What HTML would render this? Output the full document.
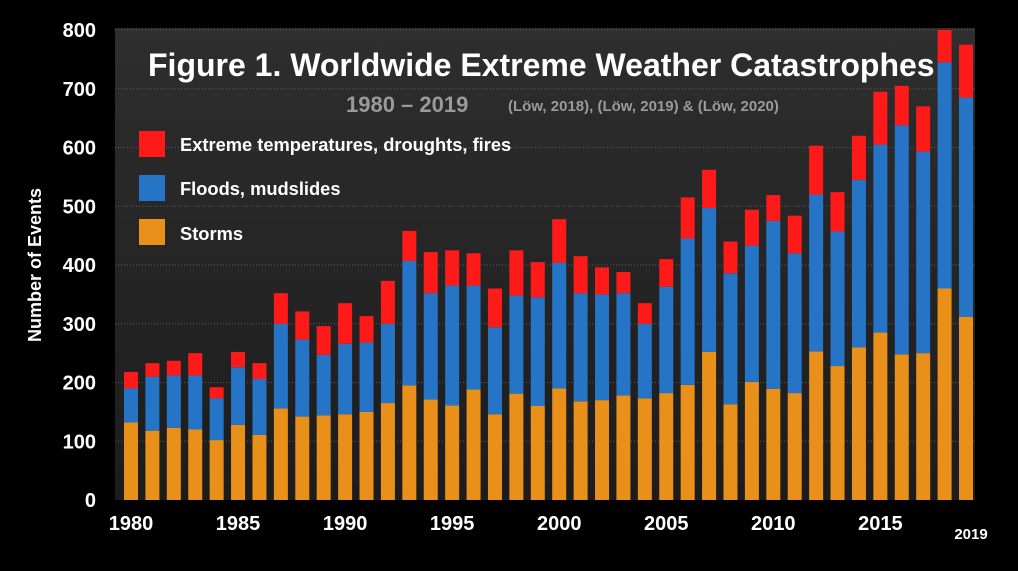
<!DOCTYPE html>
<html><head><meta charset="utf-8"><style>
body{margin:0;background:#000;width:1018px;height:566px;overflow:hidden;font-family:"Liberation Sans",Arial,sans-serif}
</style></head><body>
<svg id="chart" width="1018" height="566" xmlns="http://www.w3.org/2000/svg">
<defs><linearGradient id="bg" x1="0" y1="0" x2="0" y2="1"><stop offset="0" stop-color="#2e2e2e"/><stop offset="1" stop-color="#1c1c1c"/></linearGradient></defs>
<rect x="115" y="28" width="860" height="472" fill="url(#bg)"/>
<g id="grid"></g><g id="bars"></g><g id="axes"></g>
<text x="148" y="76" fill="#fff" font-size="32" font-weight="bold">Figure 1. Worldwide Extreme Weather Catastrophes</text>
<text x="346" y="112" fill="#9a9a9a" font-size="22" font-weight="bold">1980 – 2019</text>
<text x="508" y="111" fill="#9a9a9a" font-size="15" font-weight="bold">(Löw, 2018), (Löw, 2019) &amp; (Löw, 2020)</text>
<g>
<rect x="139" y="131" width="26" height="26" fill="#ff1a1a"/>
<text x="180" y="151" fill="#fff" font-size="18.3" font-weight="bold">Extreme temperatures, droughts, fires</text>
<rect x="139" y="175" width="26" height="26" fill="#2574c6"/>
<text x="180" y="195" fill="#fff" font-size="18.3" font-weight="bold">Floods, mudslides</text>
<rect x="139" y="219" width="26" height="26" fill="#e8901a"/>
<text x="180" y="240" fill="#fff" font-size="18.3" font-weight="bold">Storms</text>
</g>
<text transform="translate(41,265) rotate(-90)" text-anchor="middle" fill="#fff" font-size="18" font-weight="bold">Number of Events</text>
</svg>
<script>
const years=[1980,1981,1982,1983,1984,1985,1986,1987,1988,1989,1990,1991,1992,1993,1994,1995,1996,1997,1998,1999,2000,2001,2002,2003,2004,2005,2006,2007,2008,2009,2010,2011,2012,2013,2014,2015,2016,2017,2018,2019];
const storms=[132,118,123,120,102,128,111,156,142,144,146,150,165,195,171,161,188,146,181,160,190,168,170,178,173,182,196,252,163,201,189,182,253,228,260,285,248,250,360,312];
const floods=[58,92,89,92,71,98,95,144,131,103,120,118,135,212,181,204,177,148,167,185,214,184,180,174,127,181,249,245,223,232,286,238,267,229,285,320,390,343,385,373];
const heat=[28,23,25,38,19,26,27,52,48,49,69,45,73,51,70,60,55,66,77,60,74,63,46,36,35,47,70,65,54,61,44,64,83,67,75,90,67,77,55,90];
const yTicks=[0,100,200,300,400,500,600,700,800];
const xTickYears=[1980,1985,1990,1995,2000,2005,2010,2015];
const ns="http://www.w3.org/2000/svg";
const y0=500,yTop=30,x1980=131,x2019=966,bw=14;
const ys=v=>y0-(v/800)*(y0-yTop);
const xs=yr=>x1980+(yr-1980)*(x2019-x1980)/39;
function mk(t,a,p){const e=document.createElementNS(ns,t);for(const k in a)e.setAttribute(k,a[k]);p.appendChild(e);return e;}
const grid=document.getElementById('grid'),bars=document.getElementById('bars'),axes=document.getElementById('axes');
yTicks.forEach(v=>{
 if(v>0){const l=mk('line',{x1:115,x2:975,y1:ys(v),y2:ys(v),stroke:'#5a5a5a','stroke-dasharray':'1,2'},grid);
 
 }
 const t=mk('text',{x:96,y:ys(v)+7,fill:'#fff','font-size':20,'font-weight':'bold','text-anchor':'end'},axes);
 t.textContent=v;
 
 
});
years.forEach((yr,i)=>{
 const x=xs(yr)-bw/2;const a=storms[i],b=a+floods[i],c=b+heat[i];
 const r1=mk('rect',{x:x,y:ys(a),width:bw,height:ys(0)-ys(a),fill:'#e8901a'},bars);
 
 
 const r2=mk('rect',{x:x,y:ys(b),width:bw,height:ys(a)-ys(b),fill:'#2574c6'},bars);
 
 
 const r3=mk('rect',{x:x,y:ys(c),width:bw,height:ys(b)-ys(c),fill:'#ff1a1a'},bars);
 
 
});
xTickYears.forEach(yr=>{
 const t=mk('text',{x:xs(yr),y:530,fill:'#fff','font-size':20,'font-weight':'bold','text-anchor':'middle'},axes);
 t.textContent=yr;
 
 
});
const t19=mk('text',{x:xs(2019)+5,y:539,fill:'#fff','font-size':15,'font-weight':'bold','text-anchor':'middle'},axes);
t19.textContent='2019';


</script>
</body></html>
